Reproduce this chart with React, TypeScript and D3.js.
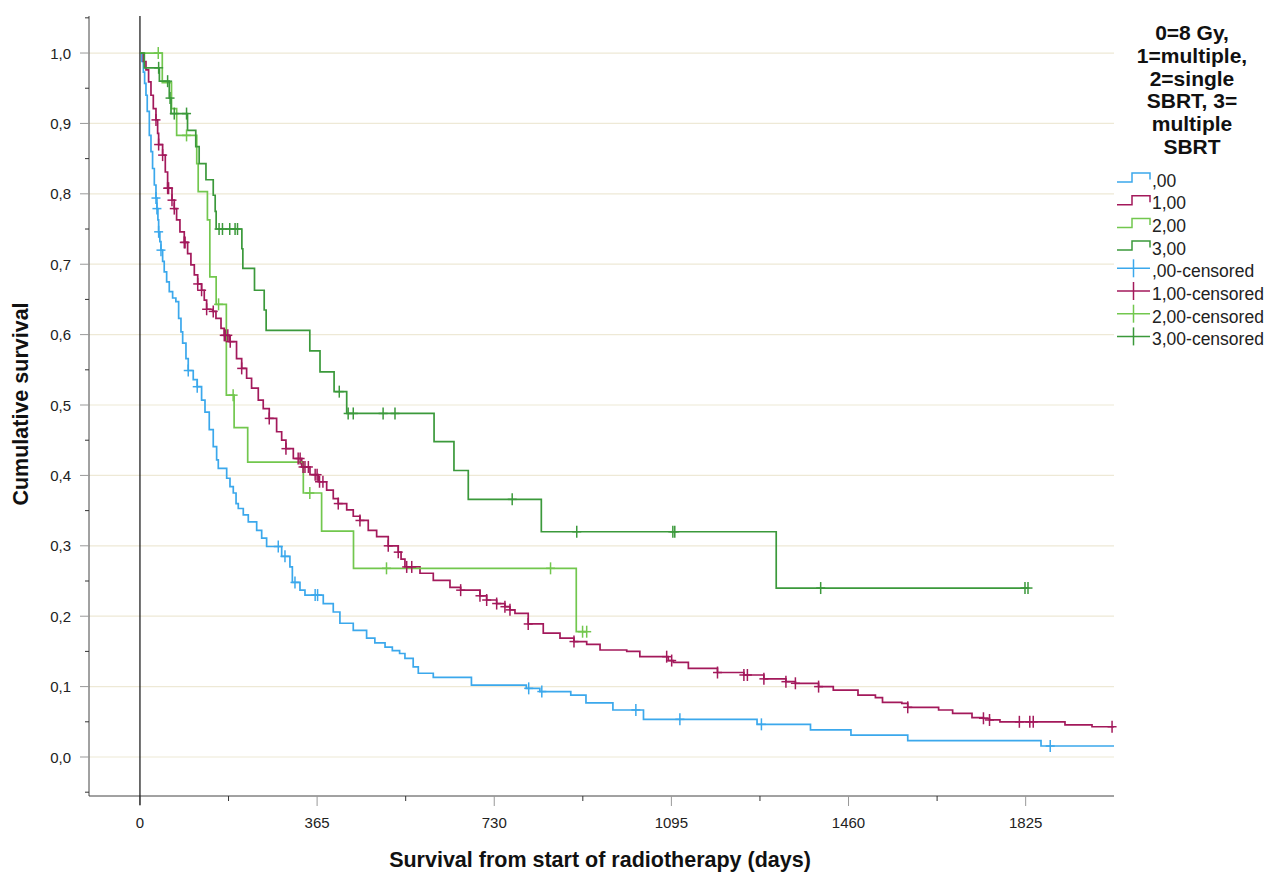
import React from 'react';
import * as d3 from 'd3';

// groupes: 0=8 Gy, 1=multiple, 2=single SBRT, 3=multiple SBRT
const groupLabels = [',00', '1,00', '2,00', '3,00'];
const groupColors = ['#3ba8ec', '#a3195b', '#72c74e', '#3b993b'];

// étapes Kaplan-Meier: [jour, survie après l'événement]
const steps00: [number, number][] = [
  [0, 1], [4, 0.988], [7, 0.973], [9.6, 0.957], [12.4, 0.94], [15, 0.917], [19.3, 0.883],
  [22.7, 0.86], [26, 0.836], [29.6, 0.8125], [33, 0.794], [35, 0.779], [37, 0.763],
  [38.5, 0.746], [41, 0.732], [43.3, 0.72], [46.7, 0.704], [50, 0.689], [55, 0.675],
  [60.4, 0.661], [67.3, 0.652], [74, 0.647], [79.7, 0.623], [84.5, 0.604], [88, 0.588],
  [94.8, 0.566], [99.5, 0.549], [109.8, 0.536], [118, 0.526], [127, 0.507], [134, 0.49],
  [142.8, 0.465], [151, 0.441], [158, 0.422], [161.4, 0.41], [178.7, 0.396], [185.5, 0.384],
  [192.3, 0.375], [198, 0.36], [202.6, 0.353], [212.9, 0.344], [223.2, 0.334], [240.5, 0.322],
  [250.8, 0.311], [261, 0.299], [292, 0.285], [309, 0.27], [314, 0.248], [329.7, 0.237],
  [340, 0.23], [377.7, 0.218], [398.3, 0.206], [412, 0.19], [439.5, 0.18], [467, 0.169],
  [484, 0.162], [505, 0.156], [520, 0.151], [535, 0.147], [546, 0.14], [563, 0.128],
  [573.5, 0.119], [604.4, 0.113], [683, 0.102], [796, 0.0975], [824, 0.093], [887.7, 0.088],
  [919, 0.077], [974.5, 0.0668], [1037.5, 0.0535], [1271.5, 0.0464], [1381.6, 0.0384],
  [1465, 0.031], [1582, 0.0232], [1856.6, 0.0156]
];
const steps10: [number, number][] = [
  [0, 1], [6.9, 0.988], [12.4, 0.976], [17.8, 0.959], [22.7, 0.94], [27.5, 0.921], [33, 0.905],
  [36.4, 0.886], [38.5, 0.87], [46.7, 0.855], [52.2, 0.831], [57, 0.808], [66, 0.791],
  [70.7, 0.779], [75.5, 0.763], [82.4, 0.746], [91.3, 0.731], [98.2, 0.715], [105, 0.699],
  [112, 0.685], [119, 0.672], [127, 0.663], [132.5, 0.649], [137.4, 0.636], [149.8, 0.633],
  [156.6, 0.623], [167, 0.609], [173.7, 0.599], [184, 0.59], [199, 0.566], [209.6, 0.552],
  [219.8, 0.538], [230, 0.524], [243.8, 0.507], [254, 0.495], [266.4, 0.481], [281.6, 0.462],
  [292, 0.45], [300.8, 0.438], [316, 0.424], [333.2, 0.412], [350.3, 0.401], [367.4, 0.391],
  [384.7, 0.379], [398.3, 0.367], [408.6, 0.36], [426, 0.351], [439.5, 0.342], [453.3, 0.336],
  [470.4, 0.322], [487.7, 0.313], [511.6, 0.3], [532.2, 0.291], [538, 0.281], [546, 0.27],
  [577, 0.261], [604.4, 0.251], [638.8, 0.241], [660.8, 0.237], [700.6, 0.229], [714.4, 0.223],
  [735, 0.218], [752, 0.2135], [762.4, 0.209], [772.7, 0.204], [800, 0.189], [831, 0.176],
  [865.5, 0.169], [894.3, 0.164], [920.5, 0.16], [948, 0.152], [1003, 0.15], [1030, 0.1425],
  [1088.6, 0.137], [1099, 0.1345], [1130, 0.126], [1190, 0.12], [1244.4, 0.1165],
  [1285.6, 0.111], [1331, 0.107], [1350.5, 0.1047], [1398.3, 0.1], [1428.6, 0.095],
  [1479.5, 0.088], [1515.4, 0.0843], [1530, 0.0777], [1569.8, 0.0762], [1582, 0.0706],
  [1645.6, 0.0668], [1674.5, 0.062], [1714.4, 0.0558], [1738, 0.055], [1750.5, 0.0526],
  [1772, 0.05], [1906, 0.0455], [1961.7, 0.043]
];
const steps20: [number, number][] = [
  [0, 1], [46, 0.958], [65, 0.921], [75.6, 0.883], [117, 0.843], [120, 0.803], [139, 0.763],
  [144, 0.682], [157, 0.643], [178, 0.514], [194, 0.468], [222, 0.419], [336.6, 0.375],
  [374.3, 0.321], [440, 0.268], [899, 0.178]
];
const steps30: [number, number][] = [
  [0, 1], [9, 0.979], [40, 0.96], [60.4, 0.936], [64, 0.914], [98, 0.89], [115, 0.867],
  [122, 0.843], [136, 0.82], [151, 0.798], [155, 0.775], [157, 0.75], [210, 0.722],
  [212, 0.694], [236, 0.663], [256, 0.635], [260, 0.606], [350, 0.577], [371, 0.547],
  [400, 0.519], [426, 0.488], [606, 0.448], [647, 0.407], [676.5, 0.366], [827, 0.32],
  [1311, 0.24]
];

// jours des observations censurées
const censored00 = [33, 35, 38.5, 43.3, 99.5, 118, 285, 298.8, 319.4, 361, 366, 801, 828, 1021.8, 1112.5, 1280.5, 1875.6];
const censored10 = [
  33, 38.5, 46.7, 57, 59, 66, 70.7, 91.3, 93, 119, 127, 137.4, 151, 173.7, 176, 181, 186,
  209.6, 266.4, 300.8, 326, 330, 336, 340, 347, 361, 365, 370, 377, 408.6, 453.3, 511.6,
  532.2, 549.6, 560, 660.8, 700.6, 714.4, 735, 752, 762.4, 800, 894.3, 1085.3, 1095.6, 1190,
  1244.4, 1251.6, 1285.6, 1331, 1350.5, 1398.3, 1582, 1738, 1750.5, 1812, 1833.5, 1840.6, 2003
];
const censored20 = [37.7, 96, 162, 192, 350, 508, 846, 912, 920.5];
const censored30 = [38.5, 57, 62, 70.7, 96, 163, 170, 185, 196, 201, 410.7, 429, 439.5, 501, 525.5, 767, 900, 1098, 1102, 1402.6, 1823.6, 1829.8];

// fin de suivi de chaque courbe
const lastTimes = [2007, 2007, 920.5, 1830];

const xTickValues = [0, 365, 730, 1095, 1460, 1825];
const xMinorTicks = [182.5, 547.5, 912.5, 1277.5, 1642.5];
const yTickValues = [0, 0.1, 0.2, 0.3, 0.4, 0.5, 0.6, 0.7, 0.8, 0.9, 1.0];
const legendTitleLines = ['0=8 Gy,', '1=multiple,', '2=single', 'SBRT, 3=', 'multiple', 'SBRT'];

const allSteps = [steps00, steps10, steps20, steps30];
const allCensored = [censored00, censored10, censored20, censored30];

const FONT = '"Liberation Sans", Arial, Helvetica, sans-serif';

export default function App() {
  const width = 1279;
  const height = 874;
  const left = 89, right = 1114, top = 16, bottom = 796;

  const x = d3.scaleLinear().domain([-105, 2007]).range([left, right]);
  const y = d3.scaleLinear().domain([-0.0554, 1.0526]).range([bottom, top]);

  const line = d3.line<[number, number]>()
    .x(d => x(d[0]))
    .y(d => y(d[1]))
    .curve(d3.curveStepAfter);

  const bis = d3.bisector((d: [number, number]) => d[0]).right;
  const survAt = (steps: [number, number][], t: number) => steps[Math.max(0, bis(steps, t) - 1)][1];

  const fmt = (v: number) => d3.format('.1f')(v).replace('.', ',');
  const yAllTicks = d3.range(-1, 22).map(i => i * 0.05);

  const legendY = (i: number) => 177.5 + i * 22.7;

  return (
    <div style={{position: 'absolute', left: 0, top: 0}}>
      <svg width={width} height={height} style={{display: 'block', background: '#fff'}} fontFamily={FONT}>
        {/* grille */}
        {yTickValues.map(v => (
          <line key={'g' + v} x1={left} x2={right} y1={y(v)} y2={y(v)} stroke="#eee9d6" strokeWidth={1.2} />
        ))}

        {/* axe y */}
        <line x1={left} x2={left} y1={top} y2={bottom} stroke="#444" strokeWidth={1} />
        {yAllTicks.map((v, i) => {
          const major = i % 2 === 1 && v > -0.01 && v < 1.01;
          return (
            <line key={'yt' + i} x1={major ? left - 9 : left - 4} x2={left} y1={y(v)} y2={y(v)}
              stroke={major ? '#999' : '#333'} strokeWidth={1} />
          );
        })}
        {yTickValues.map(v => (
          <text key={'yl' + v} x={71} y={y(v)} textAnchor="end" dominantBaseline="central"
            fontSize={15} fill="#222">{fmt(v)}</text>
        ))}

        {/* axe x */}
        <line x1={left} x2={right} y1={bottom} y2={bottom} stroke="#444" strokeWidth={1} />
        {xTickValues.map(v => (
          <line key={'xt' + v} x1={x(v)} x2={x(v)} y1={bottom} y2={bottom + 10} stroke="#999" strokeWidth={1} />
        ))}
        {xMinorTicks.map(v => (
          <line key={'xm' + v} x1={x(v)} x2={x(v)} y1={bottom} y2={bottom + 5} stroke="#333" strokeWidth={1} />
        ))}
        {xTickValues.map(v => (
          <text key={'xl' + v} x={x(v)} y={822} textAnchor="middle" dominantBaseline="central"
            fontSize={15} fill="#222">{v}</text>
        ))}

        {/* ligne de référence à 0 */}
        <line x1={x(0)} x2={x(0)} y1={top} y2={bottom + 9} stroke="#111" strokeWidth={1.2} />

        {/* courbes */}
        {allSteps.map((steps, gi) => {
          const pts: [number, number][] = [...steps, [lastTimes[gi], steps[steps.length - 1][1]]];
          return (
            <path key={'c' + gi} d={line(pts) || ''} fill="none" stroke={groupColors[gi]} strokeWidth={1.7} />
          );
        })}

        {/* censures */}
        {allCensored.map((times, gi) => (
          <g key={'cs' + gi} stroke={groupColors[gi]} strokeWidth={1.5}>
            {times.map((t, i) => {
              const cx = x(t);
              const cy = y(survAt(allSteps[gi], t));
              return (
                <g key={i}>
                  <line x1={cx} x2={cx} y1={cy - 6} y2={cy + 6} />
                  <line x1={cx - 4.5} x2={cx + 4.5} y1={cy} y2={cy} />
                </g>
              );
            })}
          </g>
        ))}

        {/* titres des axes */}
        <text x={600} y={867} textAnchor="middle" fontSize={21.5} fontWeight="bold" fill="#111">
          Survival from start of radiotherapy (days)
        </text>
        <text transform="translate(21,404) rotate(-90)" textAnchor="middle" dominantBaseline="central"
          fontSize={21.5} fontWeight="bold" fill="#111">Cumulative survival</text>

        {/* légende */}
        <text textAnchor="middle" fontSize={21} fontWeight="bold" fill="#111">
          {legendTitleLines.map((l, i) => (
            <tspan key={l + i} x={1192} y={40 + i * 22.8}>{l}</tspan>
          ))}
        </text>
        {groupLabels.map((lab, i) => {
          const cy = legendY(i);
          return (
            <g key={'ls' + i}>
              <path d={`M1117,${cy + 4.5}H1132V${cy - 4.5}H1150V${cy + 2}`} fill="none"
                stroke={groupColors[i]} strokeWidth={1.5} />
              <text x={1152} y={cy + 3} dominantBaseline="central" fontSize={17.5} fill="#222">{lab}</text>
            </g>
          );
        })}
        {groupLabels.map((lab, i) => {
          const cy = legendY(i + 4);
          return (
            <g key={'lc' + i}>
              <line x1={1117} x2={1150} y1={cy} y2={cy} stroke={groupColors[i]} strokeWidth={1.5} />
              <line x1={1133.5} x2={1133.5} y1={cy - 9} y2={cy + 9} stroke={groupColors[i]} strokeWidth={1.5} />
              <text x={1152} y={cy + 3} dominantBaseline="central" fontSize={17.5} fill="#222">{lab}-censored</text>
            </g>
          );
        })}
      </svg>
    </div>
  );
}
